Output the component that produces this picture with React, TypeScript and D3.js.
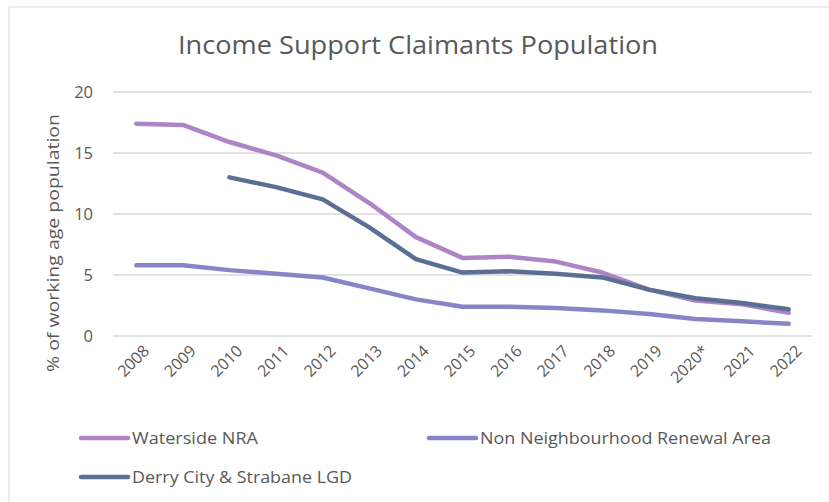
import React from "react";
import * as d3 from "d3";

const years = ["2008","2009","2010","2011","2012","2013","2014","2015","2016","2017","2018","2019","2020*","2021","2022"];
const waterside: (number|null)[] = [17.4,17.3,15.9,14.8,13.4,10.9,8.1,6.4,6.5,6.1,5.2,3.8,2.9,2.6,1.9];
const nonNRA: (number|null)[] = [5.8,5.8,5.4,5.1,4.8,3.9,3.0,2.4,2.4,2.3,2.1,1.8,1.4,1.2,1.0];
const derry: (number|null)[] = [null,null,13.0,12.2,11.2,8.9,6.3,5.2,5.3,5.1,4.8,3.8,3.1,2.7,2.2];
const yTicks = [0,5,10,15,20];

const seriesNames = ["Waterside NRA","Non Neighbourhood Renewal Area","Derry City & Strabane LGD"];
const seriesColors = ["#AD84C6","#8784C7","#5B6F95"];

const W = 829, H = 502;
const plot = { left: 113, right: 812, top: 92, bottom: 336 };
const FONT = "'Open Sans', sans-serif";
const TEXT = "#595959";

export default function App() {
  const x = d3.scaleBand<string>().domain(years).range([plot.left, plot.right]);
  const y = d3.scaleLinear().domain([0, 20]).range([plot.bottom, plot.top]);
  const cx = (d: string) => (x(d) as number) + x.bandwidth() / 2;
  const line = d3.line<[string, number|null]>()
    .defined(d => d[1] !== null)
    .x(d => cx(d[0]))
    .y(d => y(d[1] as number));
  const all = [waterside, nonNRA, derry];
  const drawOrder = [0, 1, 2];
  const legend = [
    { i: 0, x: 81, y: 438, len: 126 },
    { i: 1, x: 429, y: 438, len: 291 },
    { i: 2, x: 81, y: 477, len: 220 },
  ];
  return (
    <svg width={W} height={H} style={{ position: "absolute", left: 0, top: 0 }} fontFamily={FONT}>
      <rect x={0} y={0} width={W} height={H} fill="#fff" />
      <rect x={9} y={7} width={W + 20} height={H + 20} fill="#fff" stroke="#D9D9D9" strokeWidth={1} />
      <text x={418} y={54} textAnchor="middle" fontSize={25} fill={TEXT} textLength={480} lengthAdjust="spacingAndGlyphs">Income Support Claimants Population</text>
      {yTicks.map(t => (
        <g key={t}>
          <line x1={plot.left} x2={plot.right} y1={y(t)} y2={y(t)} stroke="#D9D9D9" strokeWidth={1.3} />
          <text x={93} y={y(t)} dy="0.35em" textAnchor="end" fontSize={16.5} fill={TEXT}>{t}</text>
        </g>
      ))}
      <text transform={`translate(59,243) rotate(-90)`} textAnchor="middle" fontSize={17} fill={TEXT} textLength={258} lengthAdjust="spacingAndGlyphs">% of working age population</text>
      {years.map(yr => (
        <text key={yr} transform={`translate(${cx(yr) + 10},${plot.bottom + 12}) rotate(-45)`} textAnchor="end" dy="0.35em" fontSize={16} fill={TEXT}>{yr}</text>
      ))}
      {drawOrder.map(i => (
        <path key={i} d={line(years.map((yr, k) => [yr, all[i][k]]) as [string, number|null][]) || ""} fill="none" stroke={seriesColors[i]} strokeWidth={4.5} strokeLinecap="round" strokeLinejoin="round" />
      ))}
      {legend.map(l => (
        <g key={l.i}>
          <line x1={l.x} x2={l.x + 47} y1={l.y} y2={l.y} stroke={seriesColors[l.i]} strokeWidth={4.5} strokeLinecap="round" />
          <text x={l.x + 51} y={l.y} dy="0.35em" fontSize={17} fill={TEXT} textLength={l.len} lengthAdjust="spacingAndGlyphs">{seriesNames[l.i]}</text>
        </g>
      ))}
    </svg>
  );
}
